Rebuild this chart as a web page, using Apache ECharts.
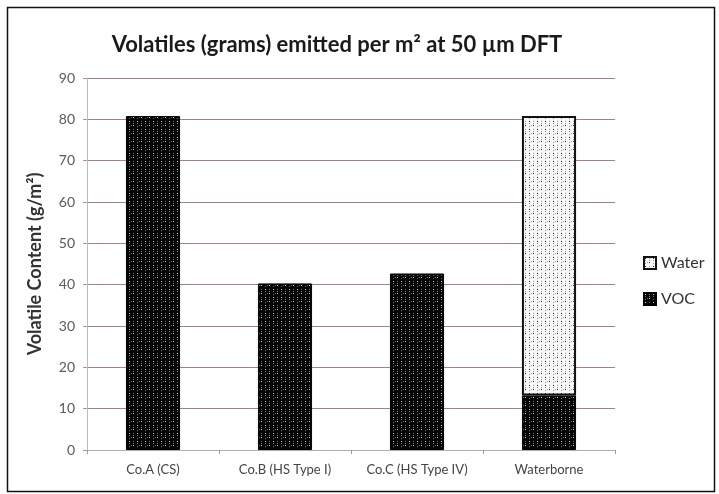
<!DOCTYPE html>
<html>
<head>
<meta charset="utf-8">
<script src="https://cdn.jsdelivr.net/npm/echarts@6/dist/echarts.min.js"></script>
<style>
  html, body { margin: 0; padding: 0; background: #fff; }
  #chart { width: 719px; height: 494px; }
</style>
</head>
<body>
<div id="chart"></div>
<script>
// Volatile content emitted per square metre at 50 µm dry film thickness
const categories = ['Co.A (CS)', 'Co.B (HS Type I)', 'Co.C (HS Type IV)', 'Waterborne'];
const vocValues = [80.8, 40.3, 42.7, 13.2];
const waterValues = ['-', '-', '-', 67.6];
const yTicks = [0, 10, 20, 30, 40, 50, 60, 70, 80, 90];

// Dotted pattern tiles used as bar fills
function makePattern(bg, dot, faint) {
  const c = document.createElement('canvas');
  c.width = 8; c.height = 8;
  const g = c.getContext('2d');
  g.fillStyle = bg;
  g.fillRect(0, 0, 8, 8);
  g.fillStyle = dot;
  g.fillRect(1, 1, 1, 1);
  g.fillRect(5, 5, 1, 1);
  g.fillStyle = faint;
  g.fillRect(1, 3, 1, 1);
  g.fillRect(5, 1, 1, 1);
  g.fillRect(3, 5, 1, 1);
  g.fillRect(1, 6, 1, 1);
  g.fillRect(5, 3, 1, 1);
  return c;
}
const vocPattern = makePattern('#050505', '#d0d0d0', '#6a6a6a');
const waterPattern = makePattern('#f7f7f7', '#222222', '#9a9a9a');

const chart = echarts.init(document.getElementById('chart'), null, { renderer: 'canvas' });
const font = "Lato, 'Open Sans', sans-serif";

chart.setOption({
  animation: false,
  backgroundColor: '#ffffff',
  title: {
    text: 'Volatiles (grams) emitted per m\u00B2 at 50 \u00B5m DFT',
    left: 332,
    top: 29,
    textAlign: 'center',
    textStyle: { fontFamily: font, fontSize: 22, fontWeight: 'bold', color: '#1a1a1a' }
  },
  legend: {
    orient: 'vertical',
    left: 638,
    top: 250,
    icon: 'rect',
    itemWidth: 12,
    itemHeight: 12,
    itemGap: 20,
    data: ['Water', 'VOC'],
    textStyle: { fontFamily: font, fontSize: 16, color: '#333333', padding: [0, 0, 0, 0] }
  },
  grid: { left: 87, right: 104, top: 78, bottom: 44 },
  xAxis: {
    type: 'category',
    data: categories,
    axisLine: { lineStyle: { color: '#b8a8a8', width: 1 } },
    axisTick: { show: true, length: 4, lineStyle: { color: '#a89494' } },
    axisLabel: { interval: 0, fontFamily: font, fontSize: 13, color: '#444444', margin: 13 }
  },
  yAxis: {
    type: 'value',
    min: yTicks[0],
    max: yTicks[yTicks.length - 1],
    interval: 10,
    name: 'Volatile Content (g/m\u00B2)',
    nameLocation: 'middle',
    nameGap: 43,
    nameTextStyle: { fontFamily: font, fontSize: 18, fontWeight: 'bold', color: '#333333' },
    axisLine: { show: true, lineStyle: { color: '#c4b4b4', width: 1 } },
    axisTick: { show: true, length: 4, lineStyle: { color: '#a89494' } },
    axisLabel: { fontFamily: font, fontSize: 14, color: '#5a5a5a', margin: 12 },
    splitLine: { lineStyle: { color: '#a08484', width: 1 } }
  },
  series: [
    {
      name: 'VOC',
      type: 'bar',
      stack: 'total',
      barWidth: '41%',
      data: vocValues,
      itemStyle: { color: { image: vocPattern, repeat: 'repeat' }, borderColor: '#000', borderWidth: 1 }
    },
    {
      name: 'Water',
      type: 'bar',
      stack: 'total',
      barWidth: '41%',
      data: waterValues,
      itemStyle: { color: { image: waterPattern, repeat: 'repeat' }, borderColor: '#111', borderWidth: 2 }
    }
  ],
  graphic: [
    {
      type: 'rect',
      shape: { x: 7.5, y: 7.5, width: 707, height: 484 },
      style: { fill: 'none', stroke: '#111', lineWidth: 1.5 },
      silent: true,
      z: 100
    }
  ]
});
</script>
</body>
</html>
